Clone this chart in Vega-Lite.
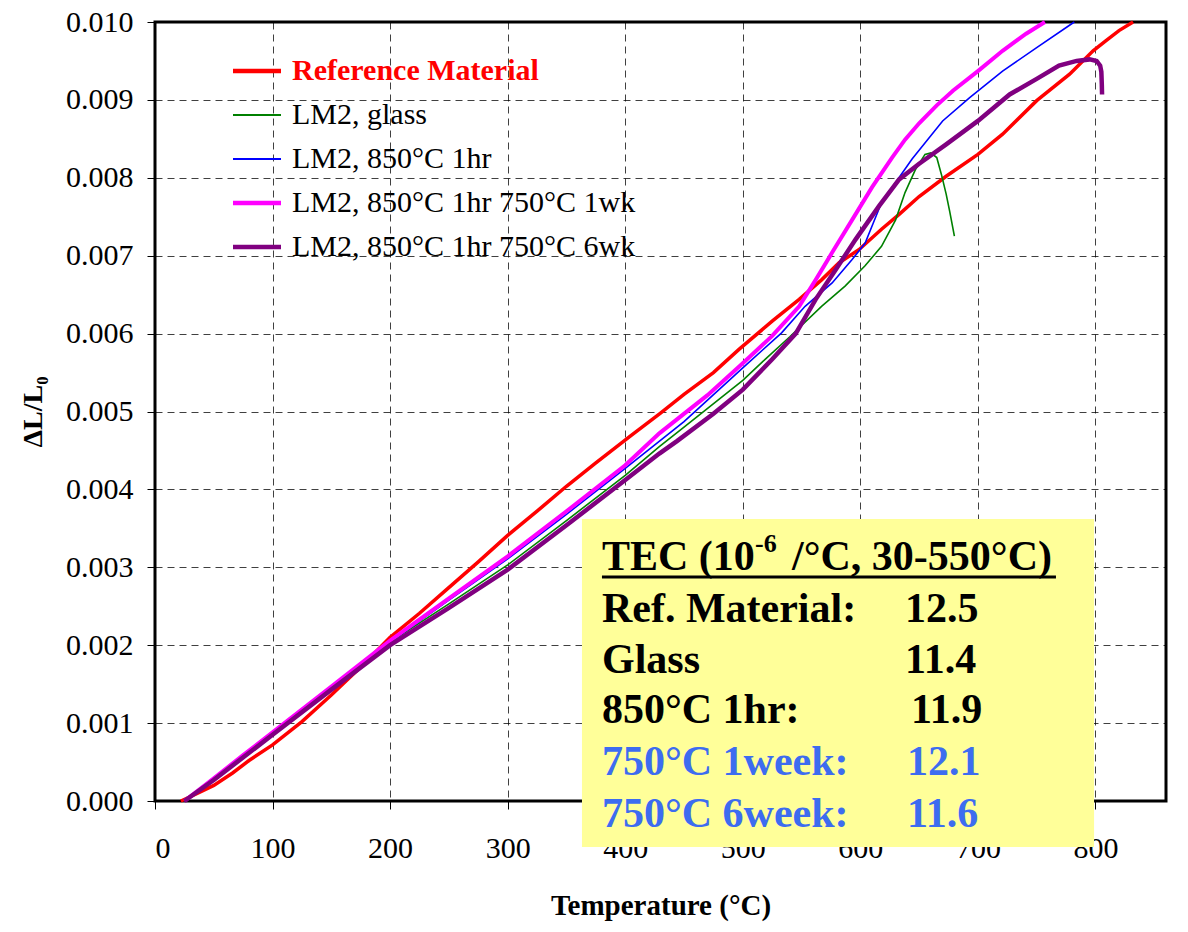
{
  "$schema": "https://vega.github.io/schema/vega-lite/v6.json",
  "width": 1011,
  "height": 779,
  "autosize": {"type": "none"},
  "padding": {"left": 155, "top": 22, "right": 22, "bottom": 131},
  "background": "white",
  "config": {
    "font": "Liberation Serif",
    "view": {"stroke": "black", "strokeWidth": 3},
    "axis": {
      "domain": false,
      "ticks": true,
      "tickColor": "black",
      "tickSize": 8,
      "tickWidth": 1,
      "labelFont": "Liberation Serif",
      "labelFontSize": 30,
      "labelColor": "black",
      "grid": true,
      "gridColor": "#000000",
      "gridOpacity": 0.75,
      "gridDash": [7, 5],
      "gridWidth": 1,
      "titleFont": "Liberation Serif",
      "titleFontWeight": "bold",
      "titleColor": "black"
    },
    "axisX": {"labelPadding": 24, "titlePadding": 28, "titleFontSize": 29},
    "axisY": {"labelPadding": 14, "titlePadding": 18, "titleFontSize": 28}
  },
  "datasets": {
    "curves": [
      {"series": "Reference Material", "T": 22, "v": 0},
      {"series": "Reference Material", "T": 35, "v": 0.00009},
      {"series": "Reference Material", "T": 50, "v": 0.0002},
      {"series": "Reference Material", "T": 66, "v": 0.00036},
      {"series": "Reference Material", "T": 80, "v": 0.00052},
      {"series": "Reference Material", "T": 100, "v": 0.00072},
      {"series": "Reference Material", "T": 125, "v": 0.00102},
      {"series": "Reference Material", "T": 150, "v": 0.00136},
      {"series": "Reference Material", "T": 175, "v": 0.00172},
      {"series": "Reference Material", "T": 200, "v": 0.0021},
      {"series": "Reference Material", "T": 225, "v": 0.00241},
      {"series": "Reference Material", "T": 247, "v": 0.0027},
      {"series": "Reference Material", "T": 275, "v": 0.00307},
      {"series": "Reference Material", "T": 300, "v": 0.00341},
      {"series": "Reference Material", "T": 325, "v": 0.00372},
      {"series": "Reference Material", "T": 350, "v": 0.00404},
      {"series": "Reference Material", "T": 375, "v": 0.00434},
      {"series": "Reference Material", "T": 404, "v": 0.00468},
      {"series": "Reference Material", "T": 430, "v": 0.00498},
      {"series": "Reference Material", "T": 450, "v": 0.00522},
      {"series": "Reference Material", "T": 475, "v": 0.0055},
      {"series": "Reference Material", "T": 497, "v": 0.0058},
      {"series": "Reference Material", "T": 525, "v": 0.00616},
      {"series": "Reference Material", "T": 548, "v": 0.00644},
      {"series": "Reference Material", "T": 567, "v": 0.00669},
      {"series": "Reference Material", "T": 582, "v": 0.00691},
      {"series": "Reference Material", "T": 599, "v": 0.00708},
      {"series": "Reference Material", "T": 618, "v": 0.00734},
      {"series": "Reference Material", "T": 633, "v": 0.00753},
      {"series": "Reference Material", "T": 650, "v": 0.00776},
      {"series": "Reference Material", "T": 673, "v": 0.00802},
      {"series": "Reference Material", "T": 700, "v": 0.0083},
      {"series": "Reference Material", "T": 721, "v": 0.00856},
      {"series": "Reference Material", "T": 750, "v": 0.00899},
      {"series": "Reference Material", "T": 778, "v": 0.00933},
      {"series": "Reference Material", "T": 798, "v": 0.00963},
      {"series": "Reference Material", "T": 809, "v": 0.00976},
      {"series": "Reference Material", "T": 820, "v": 0.00989},
      {"series": "Reference Material", "T": 832, "v": 0.01},

      {"series": "LM2, glass", "T": 25, "v": 0},
      {"series": "LM2, glass", "T": 50, "v": 0.0003},
      {"series": "LM2, glass", "T": 100, "v": 0.00088},
      {"series": "LM2, glass", "T": 150, "v": 0.00146},
      {"series": "LM2, glass", "T": 200, "v": 0.00204},
      {"series": "LM2, glass", "T": 250, "v": 0.00253},
      {"series": "LM2, glass", "T": 300, "v": 0.00303},
      {"series": "LM2, glass", "T": 350, "v": 0.0036},
      {"series": "LM2, glass", "T": 400, "v": 0.00418},
      {"series": "LM2, glass", "T": 429, "v": 0.00455},
      {"series": "LM2, glass", "T": 450, "v": 0.0048},
      {"series": "LM2, glass", "T": 500, "v": 0.0054},
      {"series": "LM2, glass", "T": 519, "v": 0.00567},
      {"series": "LM2, glass", "T": 540, "v": 0.00596},
      {"series": "LM2, glass", "T": 567, "v": 0.00635},
      {"series": "LM2, glass", "T": 587, "v": 0.00661},
      {"series": "LM2, glass", "T": 604, "v": 0.00687},
      {"series": "LM2, glass", "T": 618, "v": 0.00712},
      {"series": "LM2, glass", "T": 630, "v": 0.00746},
      {"series": "LM2, glass", "T": 638, "v": 0.00781},
      {"series": "LM2, glass", "T": 647, "v": 0.00811},
      {"series": "LM2, glass", "T": 655, "v": 0.0083},
      {"series": "LM2, glass", "T": 660, "v": 0.00832},
      {"series": "LM2, glass", "T": 665, "v": 0.00826},
      {"series": "LM2, glass", "T": 669, "v": 0.00804},
      {"series": "LM2, glass", "T": 673, "v": 0.00779},
      {"series": "LM2, glass", "T": 676, "v": 0.00757},
      {"series": "LM2, glass", "T": 680, "v": 0.00725},

      {"series": "LM2, 850°C 1hr", "T": 25, "v": 0},
      {"series": "LM2, 850°C 1hr", "T": 50, "v": 0.00029},
      {"series": "LM2, 850°C 1hr", "T": 100, "v": 0.00087},
      {"series": "LM2, 850°C 1hr", "T": 150, "v": 0.00146},
      {"series": "LM2, 850°C 1hr", "T": 200, "v": 0.00204},
      {"series": "LM2, 850°C 1hr", "T": 250, "v": 0.00258},
      {"series": "LM2, 850°C 1hr", "T": 300, "v": 0.00311},
      {"series": "LM2, 850°C 1hr", "T": 350, "v": 0.00368},
      {"series": "LM2, 850°C 1hr", "T": 400, "v": 0.00427},
      {"series": "LM2, 850°C 1hr", "T": 450, "v": 0.00487},
      {"series": "LM2, 850°C 1hr", "T": 500, "v": 0.00556},
      {"series": "LM2, 850°C 1hr", "T": 533, "v": 0.00601},
      {"series": "LM2, 850°C 1hr", "T": 553, "v": 0.00635},
      {"series": "LM2, 850°C 1hr", "T": 576, "v": 0.00665},
      {"series": "LM2, 850°C 1hr", "T": 593, "v": 0.00695},
      {"series": "LM2, 850°C 1hr", "T": 604, "v": 0.00716},
      {"series": "LM2, 850°C 1hr", "T": 611, "v": 0.00742},
      {"series": "LM2, 850°C 1hr", "T": 618, "v": 0.00768},
      {"series": "LM2, 850°C 1hr", "T": 630, "v": 0.00794},
      {"series": "LM2, 850°C 1hr", "T": 644, "v": 0.00824},
      {"series": "LM2, 850°C 1hr", "T": 670, "v": 0.00873},
      {"series": "LM2, 850°C 1hr", "T": 693, "v": 0.00903},
      {"series": "LM2, 850°C 1hr", "T": 721, "v": 0.00937},
      {"series": "LM2, 850°C 1hr", "T": 750, "v": 0.00967},
      {"series": "LM2, 850°C 1hr", "T": 782, "v": 0.01},

      {"series": "LM2, 850°C 1hr 750°C 1wk", "T": 25, "v": 0},
      {"series": "LM2, 850°C 1hr 750°C 1wk", "T": 50, "v": 0.00029},
      {"series": "LM2, 850°C 1hr 750°C 1wk", "T": 75, "v": 0.00059},
      {"series": "LM2, 850°C 1hr 750°C 1wk", "T": 100, "v": 0.00088},
      {"series": "LM2, 850°C 1hr 750°C 1wk", "T": 150, "v": 0.00147},
      {"series": "LM2, 850°C 1hr 750°C 1wk", "T": 200, "v": 0.00206},
      {"series": "LM2, 850°C 1hr 750°C 1wk", "T": 250, "v": 0.0026},
      {"series": "LM2, 850°C 1hr 750°C 1wk", "T": 300, "v": 0.00314},
      {"series": "LM2, 850°C 1hr 750°C 1wk", "T": 350, "v": 0.00372},
      {"series": "LM2, 850°C 1hr 750°C 1wk", "T": 400, "v": 0.00431},
      {"series": "LM2, 850°C 1hr 750°C 1wk", "T": 429, "v": 0.00472},
      {"series": "LM2, 850°C 1hr 750°C 1wk", "T": 470, "v": 0.00521},
      {"series": "LM2, 850°C 1hr 750°C 1wk", "T": 500, "v": 0.00562},
      {"series": "LM2, 850°C 1hr 750°C 1wk", "T": 525, "v": 0.00597},
      {"series": "LM2, 850°C 1hr 750°C 1wk", "T": 548, "v": 0.00635},
      {"series": "LM2, 850°C 1hr 750°C 1wk", "T": 562, "v": 0.00669},
      {"series": "LM2, 850°C 1hr 750°C 1wk", "T": 576, "v": 0.00704},
      {"series": "LM2, 850°C 1hr 750°C 1wk", "T": 593, "v": 0.00746},
      {"series": "LM2, 850°C 1hr 750°C 1wk", "T": 610, "v": 0.00788},
      {"series": "LM2, 850°C 1hr 750°C 1wk", "T": 627, "v": 0.00826},
      {"series": "LM2, 850°C 1hr 750°C 1wk", "T": 638, "v": 0.00849},
      {"series": "LM2, 850°C 1hr 750°C 1wk", "T": 650, "v": 0.0087},
      {"series": "LM2, 850°C 1hr 750°C 1wk", "T": 665, "v": 0.00893},
      {"series": "LM2, 850°C 1hr 750°C 1wk", "T": 679, "v": 0.00912},
      {"series": "LM2, 850°C 1hr 750°C 1wk", "T": 700, "v": 0.00937},
      {"series": "LM2, 850°C 1hr 750°C 1wk", "T": 721, "v": 0.00963},
      {"series": "LM2, 850°C 1hr 750°C 1wk", "T": 741, "v": 0.00985},
      {"series": "LM2, 850°C 1hr 750°C 1wk", "T": 757, "v": 0.01},

      {"series": "LM2, 850°C 1hr 750°C 6wk", "T": 25, "v": 0},
      {"series": "LM2, 850°C 1hr 750°C 6wk", "T": 50, "v": 0.00027},
      {"series": "LM2, 850°C 1hr 750°C 6wk", "T": 100, "v": 0.00085},
      {"series": "LM2, 850°C 1hr 750°C 6wk", "T": 150, "v": 0.00143},
      {"series": "LM2, 850°C 1hr 750°C 6wk", "T": 200, "v": 0.002},
      {"series": "LM2, 850°C 1hr 750°C 6wk", "T": 250, "v": 0.00248},
      {"series": "LM2, 850°C 1hr 750°C 6wk", "T": 300, "v": 0.00297},
      {"series": "LM2, 850°C 1hr 750°C 6wk", "T": 350, "v": 0.00354},
      {"series": "LM2, 850°C 1hr 750°C 6wk", "T": 400, "v": 0.00412},
      {"series": "LM2, 850°C 1hr 750°C 6wk", "T": 429, "v": 0.00446},
      {"series": "LM2, 850°C 1hr 750°C 6wk", "T": 444, "v": 0.00462},
      {"series": "LM2, 850°C 1hr 750°C 6wk", "T": 475, "v": 0.00497},
      {"series": "LM2, 850°C 1hr 750°C 6wk", "T": 500, "v": 0.00528},
      {"series": "LM2, 850°C 1hr 750°C 6wk", "T": 525, "v": 0.00567},
      {"series": "LM2, 850°C 1hr 750°C 6wk", "T": 545, "v": 0.006},
      {"series": "LM2, 850°C 1hr 750°C 6wk", "T": 562, "v": 0.00644},
      {"series": "LM2, 850°C 1hr 750°C 6wk", "T": 579, "v": 0.00682},
      {"series": "LM2, 850°C 1hr 750°C 6wk", "T": 596, "v": 0.00721},
      {"series": "LM2, 850°C 1hr 750°C 6wk", "T": 616, "v": 0.00764},
      {"series": "LM2, 850°C 1hr 750°C 6wk", "T": 633, "v": 0.00798},
      {"series": "LM2, 850°C 1hr 750°C 6wk", "T": 650, "v": 0.00818},
      {"series": "LM2, 850°C 1hr 750°C 6wk", "T": 673, "v": 0.00843},
      {"series": "LM2, 850°C 1hr 750°C 6wk", "T": 700, "v": 0.00873},
      {"series": "LM2, 850°C 1hr 750°C 6wk", "T": 727, "v": 0.00907},
      {"series": "LM2, 850°C 1hr 750°C 6wk", "T": 750, "v": 0.00927},
      {"series": "LM2, 850°C 1hr 750°C 6wk", "T": 769, "v": 0.00944},
      {"series": "LM2, 850°C 1hr 750°C 6wk", "T": 784, "v": 0.0095},
      {"series": "LM2, 850°C 1hr 750°C 6wk", "T": 795, "v": 0.00952},
      {"series": "LM2, 850°C 1hr 750°C 6wk", "T": 801, "v": 0.0095},
      {"series": "LM2, 850°C 1hr 750°C 6wk", "T": 804, "v": 0.00944},
      {"series": "LM2, 850°C 1hr 750°C 6wk", "T": 805, "v": 0.00936},
      {"series": "LM2, 850°C 1hr 750°C 6wk", "T": 805.4, "v": 0.0092},
      {"series": "LM2, 850°C 1hr 750°C 6wk", "T": 805.6, "v": 0.00907}
    ]
  },
  "layer": [
    {
      "data": {"name": "curves"},
      "transform": [{"filter": "datum.series === 'Reference Material'"}],
      "mark": {"type": "line", "strokeWidth": 3.5, "interpolate": "linear"},
      "encoding": {
        "x": {"field": "T", "type": "quantitative", "title": "Temperature (°C)",
              "scale": {"domain": [0, 860], "nice": false, "zero": false},
              "axis": {"values": [0, 100, 200, 300, 400, 500, 600, 700, 800]}},
        "y": {"field": "v", "type": "quantitative", "title": "ΔL/L₀",
              "scale": {"domain": [0, 0.01], "nice": false, "zero": false},
              "axis": {"values": [0, 0.001, 0.002, 0.003, 0.004, 0.005, 0.006, 0.007, 0.008, 0.009, 0.01], "format": ".3f"}},
        "color": {
          "field": "series", "type": "nominal",
          "scale": {
            "domain": ["Reference Material", "LM2, glass", "LM2, 850°C 1hr", "LM2, 850°C 1hr 750°C 1wk", "LM2, 850°C 1hr 750°C 6wk"],
            "range": ["#ff0000", "#008000", "#0000ff", "#ff00ff", "#800080"]
          },
          "legend": {
            "orient": "none", "legendX": 87, "legendY": 34, "title": null,
            "symbolType": "M-2,0H2", "symbolSize": 576, "padding": 0,
            "labelFont": "Liberation Serif", "labelFontSize": 30, "labelLimit": 1000,
            "labelOffset": 20, "rowPadding": 14,
            "labelColor": {"expr": "datum.value === 'Reference Material' ? '#ff0000' : '#000000'"},
            "labelFontWeight": {"expr": "datum.value === 'Reference Material' ? 'bold' : 'normal'"},
            "symbolStrokeWidth": {"expr": "(datum.value === 'LM2, glass' || datum.value === 'LM2, 850°C 1hr') ? 2 : 4.5"}
          }
        }
      }
    },
    {
      "data": {"name": "curves"},
      "transform": [{"filter": "datum.series === 'LM2, glass'"}],
      "mark": {"type": "line", "strokeWidth": 1.6},
      "encoding": {
        "x": {"field": "T", "type": "quantitative", "title": "Temperature (°C)"},
        "y": {"field": "v", "type": "quantitative", "title": "ΔL/L₀"},
        "color": {"field": "series", "type": "nominal"}
      }
    },
    {
      "data": {"name": "curves"},
      "transform": [{"filter": "datum.series === 'LM2, 850°C 1hr'"}],
      "mark": {"type": "line", "strokeWidth": 1.6},
      "encoding": {
        "x": {"field": "T", "type": "quantitative", "title": "Temperature (°C)"},
        "y": {"field": "v", "type": "quantitative", "title": "ΔL/L₀"},
        "color": {"field": "series", "type": "nominal"}
      }
    },
    {
      "data": {"name": "curves"},
      "transform": [{"filter": "datum.series === 'LM2, 850°C 1hr 750°C 1wk'"}],
      "mark": {"type": "line", "strokeWidth": 4},
      "encoding": {
        "x": {"field": "T", "type": "quantitative", "title": "Temperature (°C)"},
        "y": {"field": "v", "type": "quantitative", "title": "ΔL/L₀"},
        "color": {"field": "series", "type": "nominal"}
      }
    },
    {
      "data": {"name": "curves"},
      "transform": [{"filter": "datum.series === 'LM2, 850°C 1hr 750°C 6wk'"}],
      "mark": {"type": "line", "strokeWidth": 4.5},
      "encoding": {
        "x": {"field": "T", "type": "quantitative", "title": "Temperature (°C)"},
        "y": {"field": "v", "type": "quantitative", "title": "ΔL/L₀"},
        "color": {"field": "series", "type": "nominal"}
      }
    },
    {
      "data": {"values": [{"T": 363.2, "T2": 798.8, "v": 0.00362, "v2": -0.00059}]},
      "mark": {"type": "rect", "fill": "#ffff99"},
      "encoding": {
        "x": {"field": "T", "type": "quantitative", "title": "Temperature (°C)"},
        "x2": {"field": "T2"},
        "y": {"field": "v", "type": "quantitative", "title": "ΔL/L₀"},
        "y2": {"field": "v2"}
      }
    },
    {
      "data": {"values": [{"T": 380.2, "T2": 766.4, "v": 0.002875}]},
      "mark": {"type": "rule", "color": "black", "strokeWidth": 3},
      "encoding": {
        "x": {"field": "T", "type": "quantitative", "title": "Temperature (°C)"},
        "x2": {"field": "T2"},
        "y": {"field": "v", "type": "quantitative", "title": "ΔL/L₀"}
      }
    },
    {
      "data": {"values": [
        {"T": 380.2, "v": 0.002965, "txt": "TEC (10"},
        {"T": 541.9, "v": 0.002965, "txt": "/°C, 30-550°C)"},
        {"T": 380.2, "v": 0.002298, "txt": "Ref. Material:"},
        {"T": 638.0, "v": 0.002298, "txt": "12.5"},
        {"T": 380.2, "v": 0.001643, "txt": "Glass"},
        {"T": 638.0, "v": 0.001643, "txt": "11.4"},
        {"T": 380.2, "v": 0.001001, "txt": "850°C 1hr:"},
        {"T": 643.1, "v": 0.001001, "txt": "11.9"}
      ]},
      "mark": {"type": "text", "align": "left", "baseline": "alphabetic", "font": "Liberation Serif", "fontWeight": "bold", "fontSize": 42, "color": "black"},
      "encoding": {
        "x": {"field": "T", "type": "quantitative", "title": "Temperature (°C)"},
        "y": {"field": "v", "type": "quantitative", "title": "ΔL/L₀"},
        "text": {"field": "txt"}
      }
    },
    {
      "data": {"values": [{"T": 510.4, "v": 0.003196, "txt": "-6"}]},
      "mark": {"type": "text", "align": "left", "baseline": "alphabetic", "font": "Liberation Serif", "fontWeight": "bold", "fontSize": 26, "color": "black"},
      "encoding": {
        "x": {"field": "T", "type": "quantitative", "title": "Temperature (°C)"},
        "y": {"field": "v", "type": "quantitative", "title": "ΔL/L₀"},
        "text": {"field": "txt"}
      }
    },
    {
      "data": {"values": [
        {"T": 380.2, "v": 0.000334, "txt": "750°C 1week:"},
        {"T": 639.7, "v": 0.000334, "txt": "12.1"},
        {"T": 380.2, "v": -0.000334, "txt": "750°C 6week:"},
        {"T": 639.7, "v": -0.000334, "txt": "11.6"}
      ]},
      "mark": {"type": "text", "align": "left", "baseline": "alphabetic", "font": "Liberation Serif", "fontWeight": "bold", "fontSize": 42, "color": "#3d6cf0"},
      "encoding": {
        "x": {"field": "T", "type": "quantitative", "title": "Temperature (°C)"},
        "y": {"field": "v", "type": "quantitative", "title": "ΔL/L₀"},
        "text": {"field": "txt"}
      }
    }
  ]
}
